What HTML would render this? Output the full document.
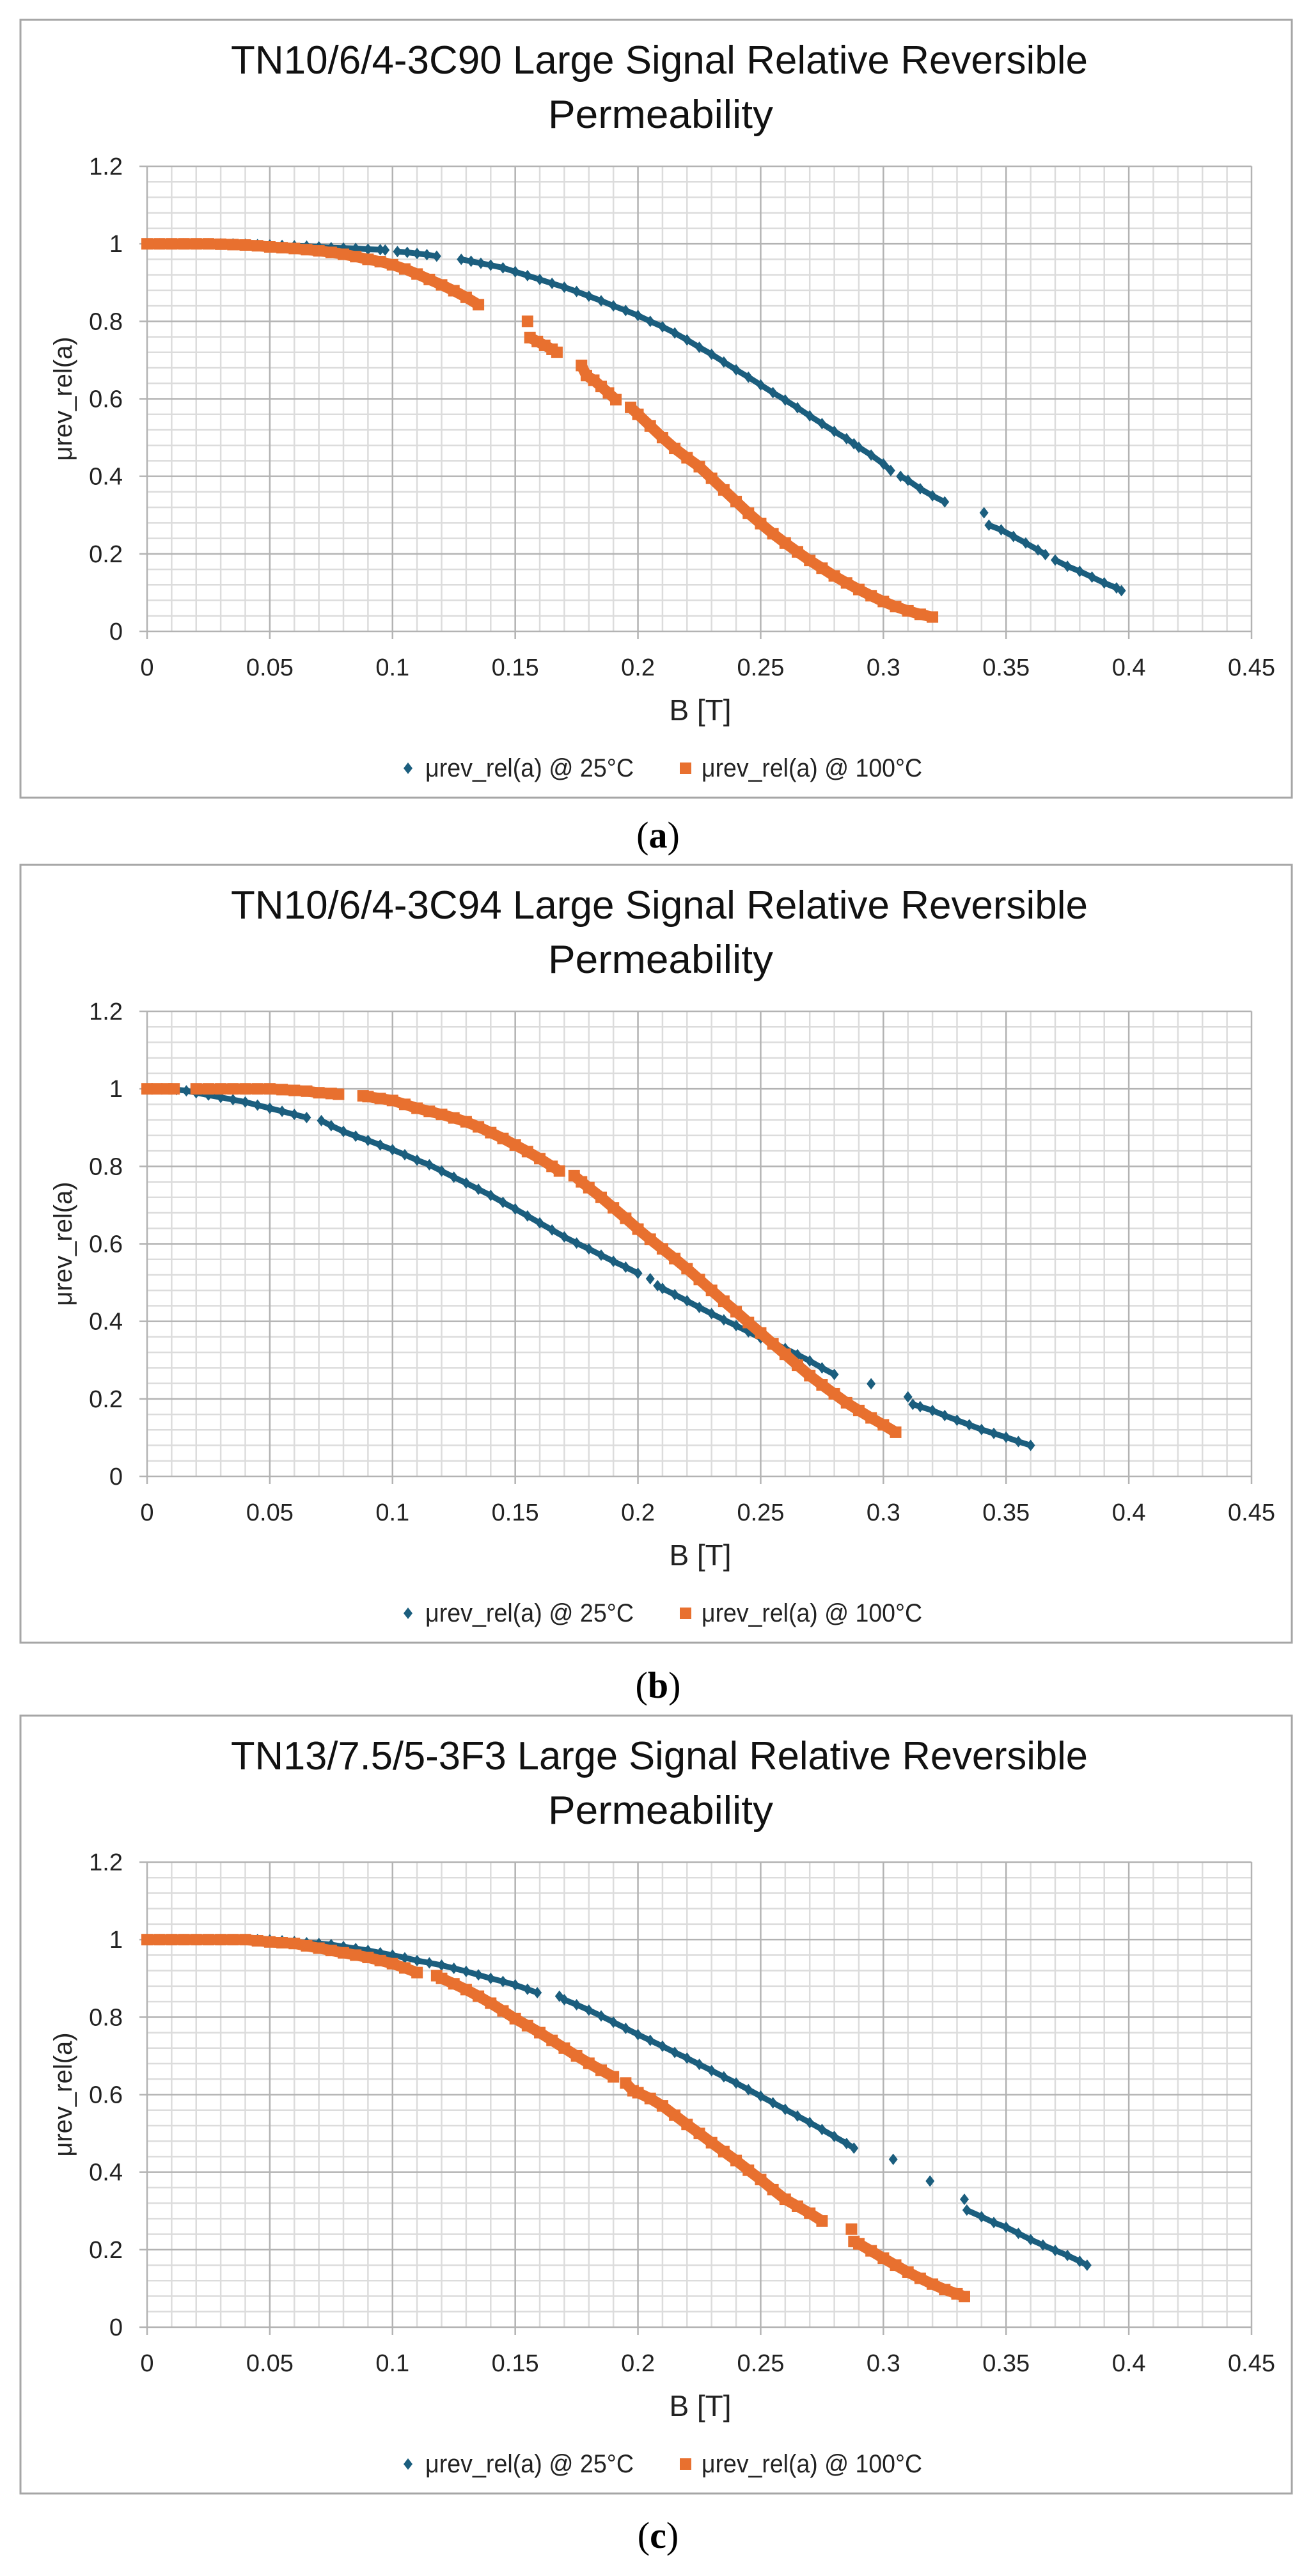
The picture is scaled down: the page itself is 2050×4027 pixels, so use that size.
<!DOCTYPE html>
<html><head><meta charset="utf-8"><style>
html,body{margin:0;padding:0;background:#fff;}
svg{display:block;}
</style></head><body>
<svg id="fig" xmlns="http://www.w3.org/2000/svg" width="2050" height="4027" viewBox="0 0 2050 4027"></svg>
<script>
// ---- data (x = B [T], y = μrev_rel(a)); null breaks a segment ----
const xTicks = [0,0.05,0.1,0.15,0.2,0.25,0.3,0.35,0.4,0.45];
const xTickLabels = ["0","0.05","0.1","0.15","0.2","0.25","0.3","0.35","0.4","0.45"];
const yTicks = [0,0.2,0.4,0.6,0.8,1,1.2];
const yTickLabels = ["0","0.2","0.4","0.6","0.8","1","1.2"];
const titlesLine1 = ["TN10/6/4-3C90 Large Signal Relative Reversible","TN10/6/4-3C94 Large Signal Relative Reversible","TN13/7.5/5-3F3 Large Signal Relative Reversible"];
const panelLabels = ["a","b","c"];
const seriesNames = ["μrev_rel(a) @ 25°C","μrev_rel(a) @ 100°C"];

const aBlueX = [0,.005,.01,.015,.02,.025,.03,.035,.04,.045,.05,.055,.06,.065,.07,.075,.08,.085,.09,.095,.097,null,.102,.106,.11,.114,.118,null,.128,.132,.136,.14,.145,.15,.155,.16,.165,.17,.175,.18,.185,.19,.195,.2,.205,.21,.215,.22,.225,.23,.235,.24,.245,.25,.255,.26,.265,.27,.275,.28,.285,.288,.29,.295,.3,.303,null,.307,.31,.315,.32,.325,null,.341,null,.343,.348,.353,.358,.363,.366,null,.37,.375,.38,.385,.39,.395,.397];
const aBlueY = [1,1,1,1,1,1,1,1,.999,.998,.997,.996,.995,.994,.992,.99,.989,.988,.986,.985,.984,null,.98,.978,.975,.972,.968,null,.96,.955,.95,.945,.938,.928,.918,.908,.898,.888,.877,.865,.853,.84,.828,.815,.8,.786,.77,.752,.733,.715,.695,.675,.656,.636,.616,.597,.577,.556,.536,.516,.497,.484,.475,.455,.432,.415,null,.4,.39,.368,.35,.334,null,.306,null,.274,.262,.245,.228,.21,.198,null,.184,.168,.155,.14,.125,.112,.105];
const aOrangeX = [0,.005,.01,.015,.02,.025,.03,.035,.04,.045,.05,.055,.06,.065,.07,.075,.08,.085,.09,.095,.1,.105,.11,.115,.12,.125,.13,.135,null,.155,null,.156,.159,.162,.165,.167,null,.177,.179,.182,.185,.188,.191,null,.197,.2,.205,.21,.215,.22,.225,.23,.235,.24,.245,.25,.255,.26,.265,.27,.275,.28,.285,.29,.295,.3,.305,.31,.315,.32];
const aOrangeY = [1,1,1,1,1,1,.999,.998,.997,.995,.992,.99,.988,.985,.982,.978,.973,.967,.96,.954,.946,.935,.922,.908,.894,.879,.862,.843,null,.8,null,.758,.748,.738,.728,.72,null,.686,.66,.648,.632,.615,.598,null,.578,.56,.53,.5,.472,.448,.425,.395,.365,.335,.305,.278,.252,.228,.205,.183,.163,.143,.125,.108,.092,.077,.064,.053,.044,.037];

const bBlueX = [.012,.016,.02,.025,.03,.035,.04,.045,.05,.055,.06,.065,null,.071,.075,.08,.085,.09,.095,.1,.105,.11,.115,.12,.125,.13,.135,.14,.145,.15,.155,.16,.165,.17,.175,.18,.185,.19,.195,.2,null,.205,null,.208,.21,.215,.22,.225,.23,.235,.24,.245,.25,.255,.26,.265,.27,.275,.28,null,.295,null,.31,null,.312,.315,.32,.325,.33,.335,.34,.345,.35,.355,.36];
const bBlueY = [.998,.995,.99,.984,.978,.972,.966,.958,.95,.942,.934,.926,null,.918,.905,.89,.878,.867,.855,.843,.83,.816,.804,.788,.772,.757,.741,.725,.707,.69,.672,.654,.636,.618,.602,.587,.571,.555,.54,.524,null,.51,null,.492,.485,.469,.453,.436,.42,.404,.389,.373,.357,.344,.33,.314,.298,.28,.263,null,.239,null,.205,null,.186,.18,.17,.157,.145,.133,.121,.111,.101,.09,.08];
const bOrangeX = [0,.004,.008,.011,null,.02,.025,.03,.035,.04,.045,.05,.055,.06,.065,.07,.075,.078,null,.088,.09,.095,.1,.105,.11,.115,.12,.125,.13,.135,.14,.145,.15,.155,.16,.165,.168,null,.174,.177,.18,.185,.19,.195,.2,.205,.21,.215,.22,.225,.23,.235,.24,.245,.25,.255,.26,.265,.27,.275,.28,.285,.29,.295,.3,.305];
const bOrangeY = [1,1,1,1,null,1,1,1,1,1,1,1,.998,.996,.994,.99,.988,.986,null,.982,.98,.975,.97,.96,.95,.942,.934,.925,.915,.902,.887,.872,.855,.838,.82,.8,.788,null,.776,.76,.745,.72,.693,.666,.638,.612,.587,.562,.536,.508,.48,.452,.425,.397,.37,.342,.315,.287,.26,.236,.213,.19,.17,.151,.133,.114];

const cBlueX = [0,.005,.01,.015,.02,.025,.03,.035,.04,.045,.05,.055,.06,.065,.07,.075,.08,.085,.09,.095,.1,.105,.11,.115,.12,.125,.13,.135,.14,.145,.15,.155,.159,null,.168,.17,.175,.18,.185,.19,.195,.2,.205,.21,.215,.22,.225,.23,.235,.24,.245,.25,.255,.26,.265,.27,.275,.28,.285,.288,null,.304,null,.319,null,.333,null,.334,.34,.345,.35,.355,.36,.365,.37,.375,.38,.383];
const cBlueY = [1,1,1,1,1,1,1,1,1,1,.999,.997,.995,.992,.99,.987,.982,.977,.972,.966,.96,.953,.946,.94,.934,.926,.918,.909,.9,.892,.883,.872,.863,null,.854,.845,.832,.818,.803,.787,.771,.755,.74,.725,.709,.694,.678,.662,.646,.63,.613,.596,.579,.562,.545,.528,.51,.492,.474,.462,null,.433,null,.377,null,.33,null,.302,.285,.27,.258,.242,.226,.212,.198,.185,.17,.16];
const cOrangeX = [0,.005,.01,.015,.02,.025,.03,.035,.04,.045,.05,.055,.06,.065,.07,.075,.08,.085,.09,.095,.1,.105,.11,null,.118,.12,.125,.13,.135,.14,.145,.15,.155,.16,.165,.17,.175,.18,.185,.19,null,.195,.198,.2,.205,.21,.215,.22,.225,.23,.235,.24,.245,.25,.255,.26,.265,.27,.275,null,.287,null,.288,.29,.295,.3,.305,.31,.315,.32,.325,.33,.333];
const cOrangeY = [1,1,1,1,1,1,1,1,1,.997,.994,.992,.99,.984,.978,.972,.966,.96,.954,.946,.938,.927,.915,null,.907,.9,.886,.871,.854,.836,.816,.796,.778,.76,.74,.72,.7,.681,.663,.646,null,.63,.61,.605,.59,.571,.547,.523,.5,.476,.453,.43,.405,.381,.355,.33,.312,.294,.274,null,.253,null,.221,.215,.197,.178,.16,.142,.126,.111,.097,.086,.079];

const panelBlueX=[aBlueX,bBlueX,cBlueX], panelBlueY=[aBlueY,bBlueY,cBlueY];
const panelOrangeX=[aOrangeX,bOrangeX,cOrangeX], panelOrangeY=[aOrangeY,bOrangeY,cOrangeY];

// ---- layout ----
const NS="http://www.w3.org/2000/svg";
const svg=document.getElementById('fig');
const BLUE="#1B5E7E", ORANGE="#E8702F";
const panelTops=[31,1352,2682];
const labelYs=[1307,2636,3965];
function mk(tag,attrs,parent,text){const e=document.createElementNS(NS,tag);for(const k in attrs)e.setAttribute(k,attrs[k]);if(text!==undefined)e.textContent=text;(parent||svg).appendChild(e);return e;}

panelTops.forEach((top,pi)=>{
  const g=mk('g',{});
  
  
  const L=230,R=1957,T=top+229,B=top+956;
  const sx=v=>L+(v/0.45)*(R-L);
  const sy=v=>B-(v/1.2)*(B-T);
  const box=mk('rect',{x:32,y:top,width:1988,height:1216,fill:'#fff',stroke:'#a6a6a6','stroke-width':3},g);
  
  
  const t1=mk('text',{x:1031,y:top+84,'font-family':'"Liberation Sans Narrow","Liberation Sans",sans-serif','font-size':62,'text-anchor':'middle',textLength:1340,lengthAdjust:'spacingAndGlyphs',fill:'#111'},g,titlesLine1[pi]);
  
  
  const t2=mk('text',{x:1033,y:top+169,'font-family':'"Liberation Sans Narrow","Liberation Sans",sans-serif','font-size':62,'text-anchor':'middle',textLength:352,lengthAdjust:'spacingAndGlyphs',fill:'#111'},g,'Permeability');
  
  
  const grid=mk('g',{},g);
  
  
  for(let i=0;i<=45;i++){ if(i%5===0) continue; const x=sx(i*0.01); mk('line',{x1:x,x2:x,y1:T,y2:B,stroke:'#dcdcdc','stroke-width':2.5},grid);}
  for(let i=0;i<=30;i++){ if(i%5===0) continue; const y=sy(i*0.04); mk('line',{x1:L,x2:R,y1:y,y2:y,stroke:'#dcdcdc','stroke-width':2.5},grid);}
  xTicks.forEach(v=>{const x=sx(v); mk('line',{x1:x,x2:x,y1:T,y2:B+12,stroke:'#b3b3b3','stroke-width':2.5},grid);});
  yTicks.forEach(v=>{const y=sy(v); mk('line',{x1:L-12,x2:R,y1:y,y2:y,stroke:'#b3b3b3','stroke-width':2.5},grid);});
  xTicks.forEach((v,i)=>{const e=mk('text',{x:sx(v),y:top+1025,'font-family':'"Liberation Sans",sans-serif','font-size':38,'text-anchor':'middle',fill:'#222'},g,xTickLabels[i]);
    
    });
  yTicks.forEach((v,i)=>{const e=mk('text',{x:192,y:sy(v)+13,'font-family':'"Liberation Sans",sans-serif','font-size':38,'text-anchor':'end',fill:'#222'},g,yTickLabels[i]);
    
    });
  const xt=mk('text',{x:1095,y:top+1095,'font-family':'"Liberation Sans Narrow","Liberation Sans",sans-serif','font-size':46,'text-anchor':'middle',fill:'#222'},g,'B [T]');
  
  
  const yt=mk('text',{x:0,y:0,'font-family':'"Liberation Sans",sans-serif','font-size':40,'text-anchor':'middle',fill:'#222',transform:`translate(112,${(T+B)/2}) rotate(-90)`},g,'μrev_rel(a)');
  
  
  function drawSeries(xs,ys,color,shape,name){
    const sg=mk('g',{},g);
    
    
    let d='',pen=false;
    for(let i=0;i<xs.length;i++){
      if(xs[i]===null){pen=false;continue;}
      d+=(pen?'L':'M')+sx(xs[i]).toFixed(1)+' '+sy(ys[i]).toFixed(1);pen=true;
    }
    mk('path',{d:d,fill:'none',stroke:color,'stroke-width':shape==='sq'?17:9,'stroke-linejoin':'round'},sg);
    for(let i=0;i<xs.length;i++){
      if(xs[i]===null) continue;
      const x=sx(xs[i]),y=sy(ys[i]);
      let m;
      if(shape==='sq') m=mk('rect',{x:x-9,y:y-9,width:18,height:18,fill:color},sg);
      else m=mk('path',{d:`M${x} ${y-9}L${x+7} ${y}L${x} ${y+9}L${x-7} ${y}Z`,fill:color},sg);
      
      
    }
  }
  drawSeries(panelBlueX[pi],panelBlueY[pi],BLUE,'dia','series-25c');
  drawSeries(panelOrangeX[pi],panelOrangeY[pi],ORANGE,'sq','series-100c');
  const lg=mk('g',{},g);
  
  
  const ly=top+1170;
  const ld=mk('path',{d:`M638 ${ly-9}L645 ${ly}L638 ${ly+9}L631 ${ly}Z`,fill:BLUE},lg);
  
  
  const lt1=mk('text',{x:665,y:ly+13,'font-family':'"Liberation Sans Narrow","Liberation Sans",sans-serif','font-size':40,textLength:326,lengthAdjust:'spacingAndGlyphs',fill:'#222'},lg,seriesNames[0]);
  
  
  const ls=mk('rect',{x:1063,y:ly-9,width:18,height:18,fill:ORANGE},lg);
  
  
  const lt2=mk('text',{x:1097,y:ly+13,'font-family':'"Liberation Sans Narrow","Liberation Sans",sans-serif','font-size':40,textLength:345,lengthAdjust:'spacingAndGlyphs',fill:'#222'},lg,seriesNames[1]);
  
  
  const pl=mk('text',{x:1029,y:labelYs[pi]+18,'font-family':'"Liberation Serif",serif','font-size':58,'text-anchor':'middle',fill:'#000'});
  mk('tspan',{},pl,'(');
  mk('tspan',{'font-weight':'bold'},pl,panelLabels[pi]);
  mk('tspan',{},pl,')');
  
  
});
</script>
</body></html>
